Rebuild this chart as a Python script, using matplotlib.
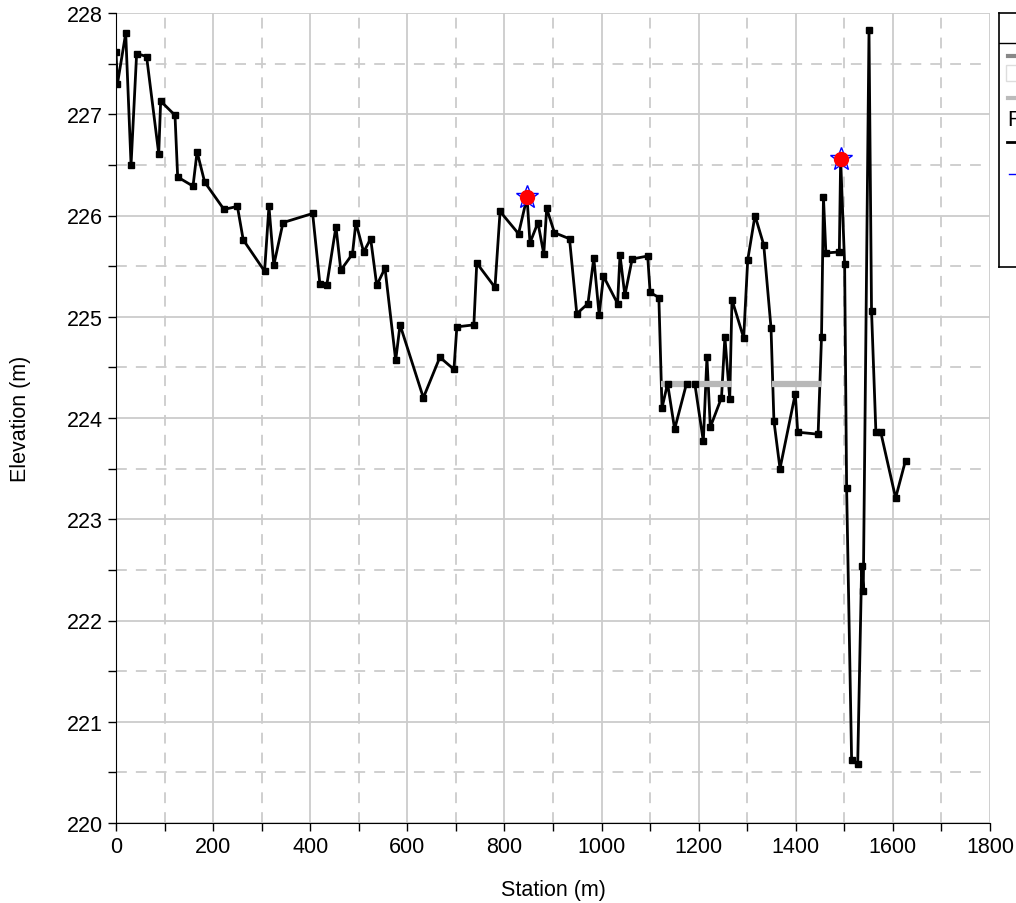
import numpy as np
import matplotlib.pyplot as plt
from matplotlib.ticker import MultipleLocator

plt.rcParams['font.family'] = ['Liberation Sans', 'DejaVu Sans']
plt.rcParams['font.size'] = 15.5

# Ground profile (station, elevation)
station = [0, 3, 20, 31, 42.5, 63, 88, 92, 121.5, 127, 158.6, 167, 182.6, 222.4,
           250, 262, 306, 315, 325, 344, 405, 420, 434, 453, 463, 487, 494, 510,
           524.5, 537, 554, 576, 585, 633, 667, 696, 702, 737, 743, 780.5, 791,
           829, 846.5, 852.6, 869, 881, 887, 903, 934, 949, 972, 984, 995, 1004,
           1033, 1038, 1048, 1063, 1095, 1100, 1118, 1124.5, 1136, 1150.5, 1175,
           1192, 1209.6, 1217, 1224, 1247, 1254, 1264, 1268.6, 1292.7, 1301, 1316,
           1334, 1349, 1355, 1367.5, 1399, 1404, 1446, 1453, 1457, 1462, 1489.7,
           1492.4, 1500.6, 1504.7, 1515, 1527.5, 1535.7, 1539, 1550.8, 1556, 1565,
           1575, 1605.6, 1626]
elevation = [227.61, 227.30, 227.80, 226.50, 227.60, 227.57, 226.61, 227.13, 226.99,
             226.38, 226.29, 226.63, 226.33, 226.06, 226.09, 225.76, 225.45, 226.09,
             225.51, 225.93, 226.02, 225.32, 225.31, 225.89, 225.46, 225.62, 225.93,
             225.64, 225.77, 225.31, 225.48, 224.57, 224.92, 224.20, 224.60, 224.48,
             224.90, 224.92, 225.53, 225.29, 226.04, 225.82, 226.18, 225.73, 225.93,
             225.62, 226.07, 225.83, 225.77, 225.03, 225.13, 225.58, 225.02, 225.40,
             225.13, 225.61, 225.21, 225.57, 225.60, 225.24, 225.19, 224.10, 224.34,
             223.89, 224.34, 224.34, 223.77, 224.60, 223.91, 224.20, 224.80, 224.19,
             225.17, 224.79, 225.56, 226.00, 225.71, 224.89, 223.97, 223.50, 224.24,
             223.86, 223.84, 224.80, 226.18, 225.63, 225.64, 226.56, 225.52, 223.31,
             220.62, 220.58, 222.54, 222.29, 227.83, 225.06, 223.86, 223.86, 223.21,
             223.58]

# Water surface segments (start, end) and their elevation
ws_x = [[1122, 1268], [1350, 1452]]
ws_y = [224.34, 224.34]

# Marked high points
peak_x = [846.5, 1492.4]
peak_y = [226.18, 226.56]

fig = plt.figure(figsize=(10.16, 9.04), dpi=100)
ax = fig.add_axes([116/1016, 80/904, 874/1016, 810/904])

ax.plot(station, elevation, color='black', lw=2, zorder=3)
for seg, yv in zip(ws_x, ws_y):
    ax.plot(seg, [yv, yv], color='#b8b8b8', lw=4.5, solid_capstyle='butt', zorder=3.5)
ax.plot(station, elevation, linestyle='none', marker='s', markersize=5,
        color='black', zorder=3.8)
ax.plot(peak_x, peak_y, linestyle='none', marker='*', markersize=17,
        markerfacecolor='none', markeredgecolor='blue', markeredgewidth=1, zorder=4)
ax.plot(peak_x, peak_y, linestyle='none', marker='o', markersize=10,
        color='red', zorder=5)

ax.set_xlim(0, 1800)
ax.set_ylim(220, 228)
ax.xaxis.set_major_locator(MultipleLocator(200))
ax.xaxis.set_minor_locator(MultipleLocator(100))
ax.yaxis.set_major_locator(MultipleLocator(1))
ax.yaxis.set_minor_locator(MultipleLocator(0.5))
ax.grid(which='major', color='#cccccc', lw=1.3, linestyle='-')
ax.grid(which='minor', color='#cccccc', lw=1.3, linestyle=(0, (6, 5)))
ax.set_axisbelow(True)
ax.tick_params(which='both', direction='out', length=6, width=1)
ax.spines['top'].set_visible(False)
ax.spines['right'].set_visible(False)
ax.set_xlabel('Station (m)', labelpad=16)
ax.set_ylabel('Elevation (m)', labelpad=26)

# Legend panel, cut off by the right edge of the figure
lg = fig.add_axes([999/1016, (904-268)/904, 200/1016, 254/904])
lg.set_xlim(0, 200)
lg.set_ylim(254, 0)
lg.set_xticks([])
lg.set_yticks([])
for s in lg.spines.values():
    s.set_linewidth(1.2)
lg.axhline(30, color='black', lw=1)
lg.plot([9, 40], [43, 43], color='#888888', lw=3)
lg.add_patch(plt.Rectangle((7, 52), 60, 16, fill=False, ec='#dddddd', lw=1))
lg.plot([9, 40], [85, 85], color='#bbbbbb', lw=3)
lg.text(8, 106, 'Reach', va='center', ha='left')
lg.plot([8, 40], [129, 129], color='black', lw=2)
lg.plot([10, 40], [161, 161], color='blue', lw=1)

fig.savefig('out.png', dpi=100)
